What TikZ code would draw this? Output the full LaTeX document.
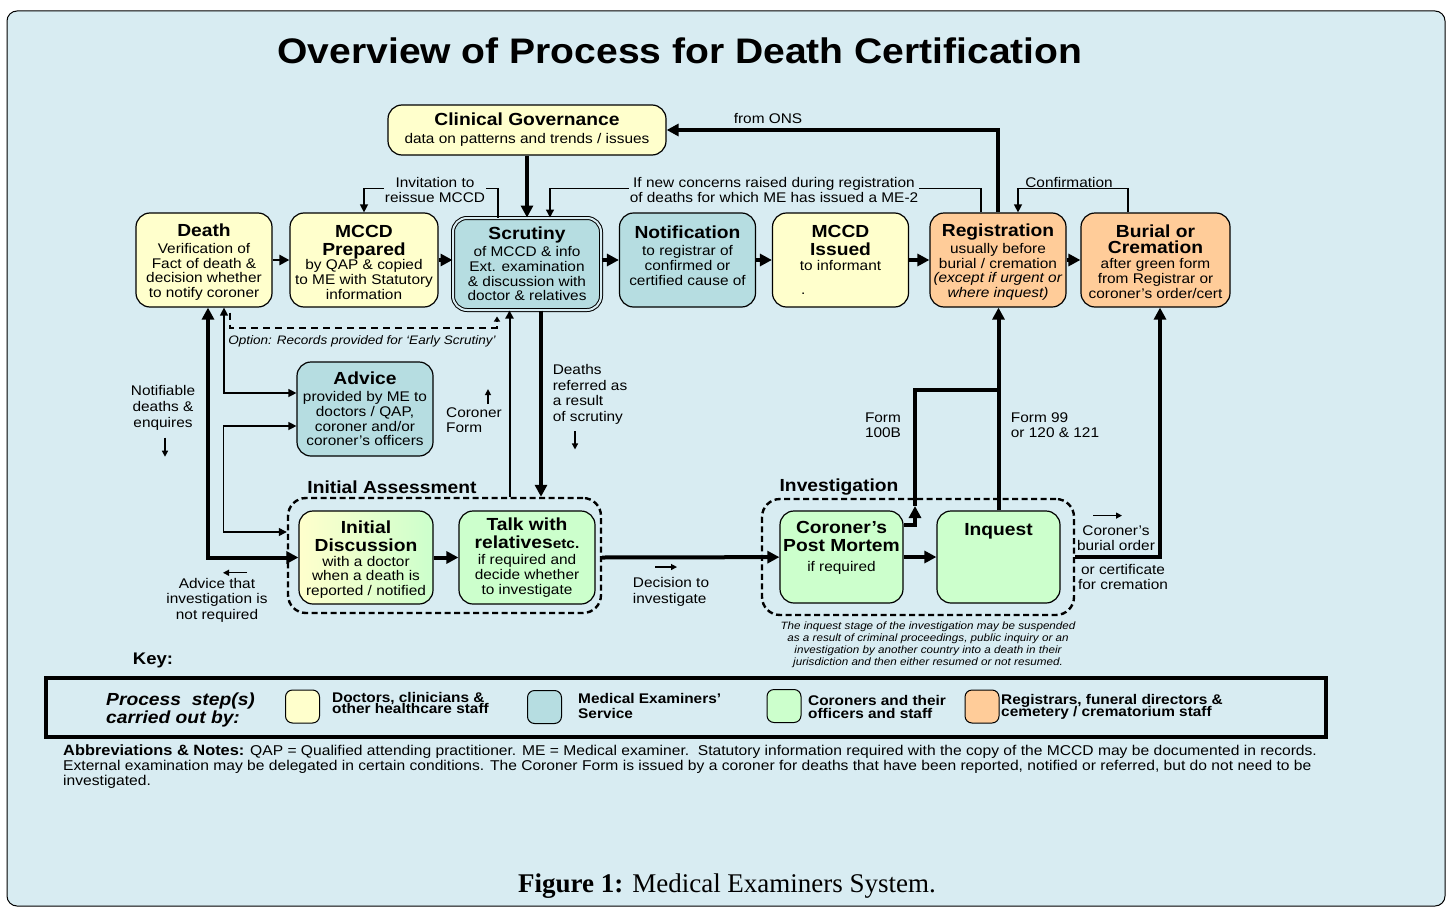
\documentclass[tikz,border=0pt]{standalone}
\usepackage{fontspec}
\setmainfont{Liberation Sans}[FakeStretch=1.1]
\newfontfamily\capfont{Liberation Serif}
\usepackage{tikz}
\usetikzlibrary{arrows.meta}

\definecolor{bgblue}{HTML}{D8ECF2}
\definecolor{docyel}{HTML}{FFFFCC}
\definecolor{meteal}{HTML}{B6DDE1}
\definecolor{corgreen}{HTML}{CCFFCC}
\definecolor{regorange}{HTML}{FFCC99}

\newcommand{\hd}[1]{{\fontsize{17.5}{18}\selectfont\bfseries #1}}

\begin{document}
\begin{tikzpicture}[x=1pt, y=-1pt,
	stepbox/.style={draw, line width=1.2pt, rounded corners=14pt, align=center, inner sep=1pt,
		font=\fontsize{14}{14.8}\selectfont, minimum width=136pt, minimum height=94pt},
	docstep/.style={stepbox, fill=docyel},
	mestep/.style={stepbox, fill=meteal},
	corstep/.style={stepbox, fill=corgreen},
	regstep/.style={stepbox, fill=regorange},
	stagebox/.style={draw, line width=2.4pt, dash pattern=on 6pt off 3.5pt, rounded corners=18pt, inner sep=0pt},
	stagelbl/.style={font=\fontsize{17.5}{18}\selectfont\bfseries, inner sep=1pt},
	lbl/.style={font=\fontsize{14}{15.5}\selectfont, align=center, inner sep=1pt},
	keytxt/.style={font={\fontsize{14}{11.5}\selectfont\bfseries\lineskiplimit=-20pt}, align=left, anchor=west, inner sep=0pt},
	keysw/.style={draw, line width=1pt, rounded corners=7pt, minimum width=34pt, minimum height=33pt, inner sep=0pt},
	heavy/.style={line width=4pt, -{Triangle[length=12pt,width=12pt]}},
	heavyboth/.style={line width=4pt, {Triangle[length=12pt,width=12pt]}-{Triangle[length=12pt,width=12pt]}},
	mid/.style={line width=2.6pt, -{Triangle[length=10pt,width=10pt]}},
	light/.style={line width=1.3pt, -{Triangle[length=8pt,width=8pt]}},
	lightboth/.style={line width=1.3pt, {Triangle[length=8pt,width=8pt]}-{Triangle[length=8pt,width=8pt]}},
	hint/.style={line width=1.3pt, -{Triangle[length=6pt,width=6pt]}},
]
	\useasboundingbox (0,0) rectangle (1448,907);
	\fill[white] (0,0) rectangle (1448,907);
	\draw[fill=bgblue, line width=1pt, rounded corners=10pt] (7,11) rectangle (1445,906);

	\node[font=\fontsize{35.5}{40}\selectfont\bfseries, anchor=base] (title) at (680,63.5) {Overview of Process for Death Certification};

	% process steps
	\node[docstep, minimum width=278pt, minimum height=50pt] (gov) at (527,130) {\hd{Clinical Governance}\\[3pt]data on patterns and trends / issues};
	\node[docstep] (death) at (204,260) {\rule{0pt}{17pt}\hd{Death}\\[2pt]Verification of\\Fact of death \&\\decision whether\\to notify coroner};
	\node[docstep, minimum width=148pt] (prep) at (364,260) {\rule{0pt}{17pt}\hd{MCCD}\\[3pt]\hd{Prepared}\\by QAP \& copied\\to ME with Statutory\\information};
	\node[mestep, double=bgblue, double distance=2pt, line width=1pt, minimum width=148pt, minimum height=92pt] (scrut) at (527,264) {\hd{Scrutiny}\\[2pt]of MCCD \& info\\Ext. examination\\\& discussion with\\doctor \& relatives};
	\node[mestep] (notif) at (687.5,260) {\hd{Notification}\\[2pt]to registrar of\\confirmed or\\certified cause of\\[-6pt]~};
	\node[docstep] (issued) at (840.5,260) {\hd{MCCD}\\[3pt]\hd{Issued}\\to informant\\[10pt]\llap{.\hspace{35pt}}};
	\node[regstep] (reg) at (998,260) {\rule{0pt}{17pt}\hd{Registration}\\[2pt]usually before\\burial / cremation\\\textit{(except if urgent or}\\\textit{where inquest)}};
	\node[regstep, minimum width=149pt] (burial) at (1155.5,260) {\rule{0pt}{16pt}\hd{Burial or}\\[1pt]\hd{Cremation}\\after green form\\from Registrar or\\coroner's order/cert};
	\node[mestep] (advice) at (365,409) {\hd{Advice}\\[2pt]provided by ME to\\doctors / QAP,\\coroner and/or\\coroner's officers};
	\node[stepbox, left color=docyel, right color=corgreen, minimum width=134pt, minimum height=93pt] (initd) at (366,557.5) {\rule{0pt}{17pt}\hd{Initial}\\[3pt]\hd{Discussion}\\with a doctor\\when a death is\\reported / notified};
	\node[corstep, minimum height=93pt] (talk) at (527,557.5) {\hd{Talk with}\\[3pt]\hd{relatives}{\bfseries etc.}\\[2pt]if required and\\decide whether\\to investigate};
	\node[corstep, minimum width=123pt, minimum height=92pt] (pm) at (841.5,557) {\hd{Coroner's}\\[3pt]\hd{Post Mortem}\\[5pt]if required\\[6pt]~};
	\node[corstep, minimum width=123pt, minimum height=92pt] (inq) at (998.5,557) {\hd{Inquest}\\[40pt]~};

	% stages
	\node[stagebox, minimum width=313pt, minimum height=115pt] (assess) at (444.5,555.5) {};
	\node[stagebox, minimum width=312pt, minimum height=116pt] (invest) at (918,557) {};
	\node[stagelbl] (assesslbl) at (392,487) {Initial Assessment};
	\node[stagelbl] (investlbl) at (839,487) {Investigation};

	\coordinate (cfcol) at (509.5,0);
	\coordinate (refcol) at (541,0);
	\coordinate (burcol) at (1160,0);
	\coordinate (pmtip) at (915,506);
	\coordinate (joint) at (998,390);

	\draw
		(death) edge[mid] (prep)
		(prep.east) edge[heavy] (prep.east -| scrut.west)
		(scrut.east |- notif) edge[heavy] (notif)
		(notif) edge[heavy] (issued)
		(issued) edge[heavy] (reg)
		(reg) edge[heavy] (burial)
		(gov.south) edge[heavy] (gov.south |- scrut.north)
		(initd) edge[heavy] (talk)
		(assess.east |- talk) edge[heavy] (pm)
		(pm) edge[heavy] (inq)
		(inq.north) edge[heavy] (inq.north |- reg.south)
		(refcol |- scrut.south) edge[heavy] (refcol |- assess.north)
		(cfcol |- assess.north) edge[line width=2pt, -{Triangle[length=8pt,width=8pt]}] (cfcol |- scrut.south)
	;
	\draw[heavy] (reg.north) |- (gov.east);
	\draw[light] ([xshift=-29pt]scrut.north) -- ++(0,-29) -| (prep.north);
	\draw[light] ([xshift=-17pt]reg.north) -- ++(0,-24) -| ([xshift=23pt]scrut.north);
	\draw[light] ([xshift=-27.5pt]burial.north) -- ++(0,-24) -| ([xshift=20pt]reg.north);
	\draw[line width=2pt, dash pattern=on 7pt off 5pt, -{Triangle[length=5pt,width=6pt]}] ([shift={(26,5)}]death.south) |- ([shift={(-30,17)}]scrut.south) -- ([shift={(-30,6)}]scrut.south);
	\draw[heavyboth] ([xshift=4pt]death.south) |- (initd.west);
	\draw[lightboth] ([xshift=20pt]death.south) |- ([shift={(0,-16)}]advice.west);
	\draw[lightboth] ([shift={(0,17)}]advice.west) -- ++(-73,0) |- ([shift={(0,-23.5)}]assess.west);
	\draw[heavy] ([shift={(0,-32)}]pm.east) -| (pmtip);
	\draw[heavy, -] (pmtip) |- (joint);
	\draw[heavy] (invest.east |- inq) -| (burcol |- burial.south);

	% connector labels
	\node[lbl] (onslbl) at (768,119) {from ONS};
	\node[lbl, fill=bgblue] (invlbl) at (435,190) {Invitation to\\reissue MCCD};
	\node[lbl, fill=bgblue] (concernlbl) at (774,190) {If new concerns raised during registration\\of deaths for which ME has issued a ME-2};
	\node[lbl] (conflbl) at (1069,182) {Confirmation};
	\node[lbl, font=\itshape\fontsize{12.3}{13}\selectfont] (earlylbl) at (362,341) {Option: Records provided for `Early Scrutiny'};
	\node[lbl, font=\fontsize{14}{16}\selectfont] (notiflbl) at (163,408) {Notifiable\\deaths \&\\enquires};
	\draw[hint] ([shift={(2,6)}]notiflbl.south) -- ++(0,19);
	\node[lbl, align=left] (cflbl) at (474,420) {Coroner\\Form};
	\draw[hint] ([shift={(14,-2)}]cflbl.north) -- ++(0,-15);
	\node[lbl, align=left] (reflbl) at (590,394.5) {Deaths\\referred as\\a result\\of scrutiny};
	\draw[hint] ([shift={(-15,6)}]reflbl.south) -- ++(0,18);
	\node[lbl, align=left] (f100lbl) at (883,425) {Form\\100B};
	\node[lbl, align=left] (f99lbl) at (1055,425) {Form 99\\or 120 \& 121};
	\node[lbl] (advnolbl) at (217,600) {Advice that\\investigation is\\not required};
	\draw[hint] ([shift={(30,-4)}]advnolbl.north) -- ++(-24,0);
	\node[lbl, align=left] (declbl) at (671,592) {Decision to\\investigate};
	\draw[hint] ([shift={(-16,-9.5)}]declbl.north) -- ++(22,0);
	\node[lbl] (burlbl) at (1116,538) {Coroner's\\burial order};
	\draw[hint] ([shift={(-23,-8.5)}]burlbl.north) -- ++(29,0);
	\node[lbl] (certlbl) at (1123,577) {or certificate\\for cremation};
	\node[lbl, font=\itshape\fontsize{10.6}{12}\selectfont] (suspendlbl) at (928,645) {The inquest stage of the investigation may be suspended\\as a result of criminal proceedings, public inquiry or an\\investigation by another country into a death in their\\jurisdiction and then either resumed or not resumed.};

	% key
	\node[font=\fontsize{16.8}{18}\selectfont\bfseries] (keylbl) at (153,660) {Key:};
	\node[draw, line width=3.5pt, minimum width=1280pt, minimum height=59pt, inner sep=0pt] (keybox) at (686,707.5) {};
	\draw[line width=0.8pt] ([shift={(3.5,3.5)}]keybox.north west) rectangle ([shift={(-3.5,-3.5)}]keybox.south east);
	\node[font={\fontsize{17.5}{16}\selectfont\bfseries\itshape}, align=left, anchor=west, inner sep=0pt] (keyproc) at (106,710) {Process\ \ step(s)\\carried out by:};
	\node[keysw, fill=docyel] (keydoc) at (302.5,706.5) {};
	\node[keytxt] (keydoctxt) at (332,703) {Doctors, clinicians \&\\other healthcare staff};
	\node[keysw, fill=meteal] (keyme) at (544.5,707) {};
	\node[keytxt] (keymetxt) at (578,706) {Medical Examiners'\\[4pt]Service};
	\node[keysw, fill=corgreen] (keycor) at (784,706) {};
	\node[keytxt] (keycortxt) at (808,707) {Coroners and their\\[1pt]officers and staff};
	\node[keysw, fill=regorange] (keyreg) at (982,706.5) {};
	\node[keytxt] (keyregtxt) at (1001,707) {Registrars, funeral directors \&\\cemetery / crematorium staff};

	\node[anchor=north west, align=left, inner sep=0pt, font=\fontsize{14.2}{15.2}\selectfont] (notes) at (63,744) {{\fontsize{14.9}{15}\selectfont\bfseries Abbreviations \& Notes:} QAP = Qualified attending practitioner. ME = Medical examiner.\ \ Statutory information required with the copy of the MCCD may be documented in records.\\External examination may be delegated in certain conditions. The Coroner Form is issued by a coroner for deaths that have been reported, notified or referred, but do not need to be\\investigated.};

	\node[font=\capfont\fontsize{27}{30}\selectfont] (caption) at (727,886) {\textbf{Figure 1:} Medical Examiners System.};
\end{tikzpicture}
\end{document}
